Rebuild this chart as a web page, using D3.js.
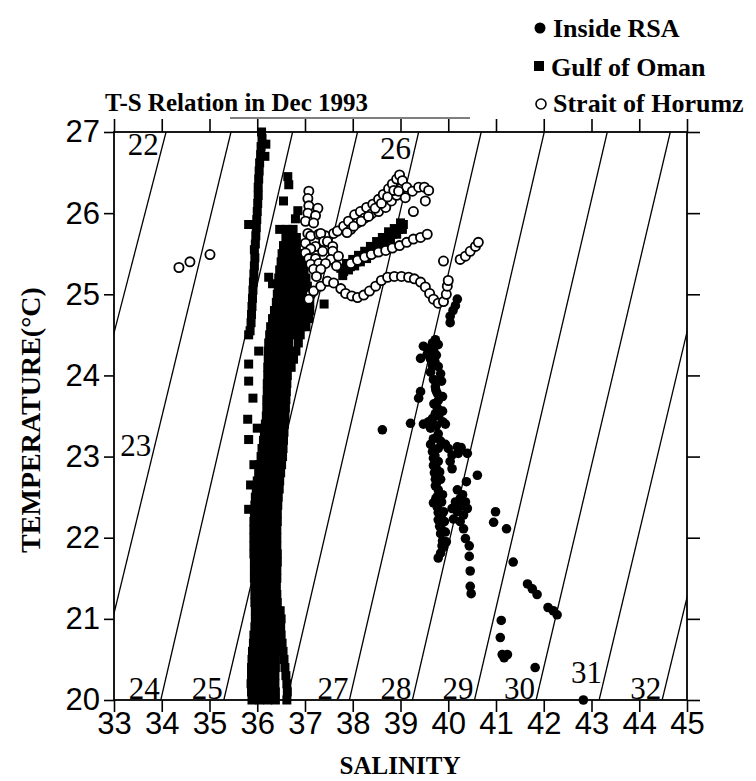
<!DOCTYPE html>
<meta charset="utf-8">

<head>
    <style>
        body { margin: 0; background: #fff; }
        svg { display: block; }
        .serif { font-family: "Liberation Serif", "Times New Roman", serif; }
        .sans { font-family: "Liberation Sans", Arial, sans-serif; }
    </style>
</head>

<body>

    <script src="https://d3js.org/d3.v7.min.js"></script>

    <svg width="756" height="781"></svg>

    <script>

        // ---------- data ----------
        var salinityTicks = [33, 34, 35, 36, 37, 38, 39, 40, 41, 42, 43, 44, 45];
        var temperatureTicks = [20, 21, 22, 23, 24, 25, 26, 27];

        // sigma-t isopycnals: salinity where each line crosses T=20 and T=27
        var sigmaLabels = [22, 23, 24, 25, 26, 27, 28, 29, 30, 31, 32];
        var sigmaSalAt20 = [31.01, 32.56, 33.98, 35.30, 36.62, 37.93, 39.25, 40.55, 41.84, 43.16, 44.48];
        var sigmaSalAt27 = [34.09, 35.45, 36.74, 38.10, 39.38, 40.69, 42.01, 43.33, 44.65, 46.00, 47.36];

        // Gulf of Oman [salinity, temperature]
        var omanSurface = [
            [36.09, 27.0], [36.10, 26.92], [36.18, 26.85], [36.08, 26.82], [36.07, 26.72], [36.16, 26.7],
            [36.05, 26.62], [36.04, 26.52], [36.03, 26.42], [36.02, 26.32], [36.02, 26.22], [36.01, 26.12],
            [36.00, 26.02], [35.99, 25.92], [35.82, 25.86], [35.98, 25.82], [35.97, 25.72], [35.96, 25.62],
            [35.94, 25.55], [35.95, 25.45], [35.94, 25.35], [35.93, 25.25], [35.92, 25.15], [35.91, 25.05],
            [35.90, 24.95], [35.89, 24.85], [35.88, 24.75], [35.87, 24.65], [35.85, 24.55],
            [36.64, 26.45], [36.66, 26.35], [36.55, 26.15], [36.85, 26.03], [36.80, 25.93], [36.47, 25.8],
            [36.24, 25.21], [36.32, 25.13], [37.40, 24.88]
        ];
        var omanMixed = [
            [36.62, 25.8], [36.75, 25.8],
            [36.60, 25.7], [36.72, 25.7], [36.82, 25.7],
            [36.55, 25.6], [36.68, 25.6], [36.82, 25.6],
            [36.52, 25.5], [36.65, 25.5], [36.78, 25.5], [36.90, 25.5],
            [36.50, 25.4], [36.62, 25.4], [36.75, 25.4], [36.88, 25.4], [36.94, 25.4],
            [36.47, 25.3], [36.60, 25.3], [36.73, 25.3], [36.86, 25.3], [36.98, 25.3],
            [36.45, 25.2], [36.58, 25.2], [36.71, 25.2], [36.84, 25.2], [36.97, 25.2], [37.02, 25.2],
            [36.44, 25.1], [36.57, 25.1], [36.70, 25.1], [36.83, 25.1], [36.96, 25.1], [37.05, 25.1],
            [36.42, 25.0], [36.55, 25.0], [36.68, 25.0], [36.81, 25.0], [36.94, 25.0], [37.07, 25.0],
            [36.40, 24.9], [36.53, 24.9], [36.66, 24.9], [36.79, 24.9], [36.92, 24.9], [37.05, 24.9], [37.10, 24.9],
            [36.36, 24.8], [36.49, 24.8], [36.62, 24.8], [36.75, 24.8], [36.88, 24.8], [37.01, 24.8], [37.10, 24.8],
            [36.32, 24.7], [36.45, 24.7], [36.58, 24.7], [36.71, 24.7], [36.84, 24.7], [36.97, 24.7], [37.08, 24.7],
            [36.28, 24.6], [36.41, 24.6], [36.54, 24.6], [36.67, 24.6], [36.80, 24.6], [36.93, 24.6], [37.02, 24.6],
            [36.26, 24.5], [36.39, 24.5], [36.52, 24.5], [36.65, 24.5], [36.78, 24.5], [36.90, 24.5],
            [36.86, 24.4], [36.81, 24.3], [36.76, 24.2], [36.71, 24.1],
            [35.82, 24.5], [36.03, 24.3], [35.82, 24.14], [35.82, 23.93], [35.91, 23.72], [35.80, 23.46],
            [36.00, 23.35], [35.82, 23.21], [35.93, 22.90], [35.86, 22.65], [35.82, 22.35]
        ];
        var omanDeep = [
            [36.24, 24.4], [36.23, 24.3], [36.23, 24.2], [36.22, 24.1], [36.22, 24.0], [36.21, 23.9], [36.21, 23.8],
            [36.20, 23.7], [36.20, 23.6], [36.19, 23.5], [36.17, 23.4], [36.15, 23.3], [36.13, 23.2], [36.10, 23.1],
            [36.08, 23.0], [36.05, 22.9], [36.03, 22.8], [36.00, 22.7], [35.98, 22.6], [35.96, 22.5], [35.95, 22.4],
            [35.94, 22.3], [35.93, 22.2], [35.93, 22.1], [35.93, 22.0], [35.93, 21.9], [35.93, 21.8], [35.94, 21.7],
            [35.94, 21.6], [35.94, 21.5], [35.95, 21.4], [35.95, 21.3], [35.95, 21.2], [35.96, 21.1], [35.96, 21.0],
            [35.95, 20.9], [35.93, 20.8], [35.92, 20.7], [35.90, 20.6], [35.89, 20.5], [35.88, 20.4], [35.88, 20.3],
            [35.87, 20.2], [35.88, 20.1], [35.89, 20.0],
            [36.38, 24.4], [36.37, 24.3], [36.37, 24.2], [36.36, 24.1], [36.36, 24.0], [36.35, 23.9], [36.34, 23.8],
            [36.34, 23.7], [36.33, 23.6], [36.32, 23.5], [36.31, 23.4], [36.29, 23.3], [36.27, 23.2], [36.25, 23.1],
            [36.23, 23.0], [36.21, 22.9], [36.19, 22.8], [36.17, 22.7], [36.15, 22.6], [36.12, 22.5], [36.11, 22.4],
            [36.10, 22.3], [36.09, 22.2], [36.09, 22.1], [36.09, 22.0], [36.09, 21.9], [36.09, 21.8], [36.10, 21.7],
            [36.10, 21.6], [36.10, 21.5], [36.11, 21.4], [36.11, 21.3], [36.12, 21.2], [36.12, 21.1], [36.12, 21.0],
            [36.11, 20.9], [36.10, 20.8], [36.08, 20.7], [36.06, 20.6], [36.05, 20.5], [36.04, 20.4], [36.04, 20.3],
            [36.03, 20.2], [36.04, 20.1], [36.05, 20.0],
            [36.52, 24.4], [36.51, 24.3], [36.51, 24.2], [36.50, 24.1], [36.50, 24.0], [36.49, 23.9], [36.48, 23.8],
            [36.47, 23.7], [36.46, 23.6], [36.45, 23.5], [36.44, 23.4], [36.42, 23.3], [36.41, 23.2], [36.39, 23.1],
            [36.38, 23.0], [36.36, 22.9], [36.34, 22.8], [36.32, 22.7], [36.30, 22.6], [36.28, 22.5], [36.27, 22.4],
            [36.26, 22.3], [36.25, 22.2], [36.25, 22.1], [36.25, 22.0], [36.25, 21.9], [36.25, 21.8], [36.25, 21.7],
            [36.25, 21.6], [36.25, 21.5], [36.26, 21.4], [36.26, 21.3], [36.27, 21.2], [36.28, 21.1], [36.29, 21.0],
            [36.27, 20.9], [36.25, 20.8], [36.24, 20.7], [36.23, 20.6], [36.22, 20.5], [36.21, 20.4], [36.21, 20.3],
            [36.20, 20.2], [36.21, 20.1], [36.22, 20.0],
            [36.66, 24.4], [36.65, 24.3], [36.64, 24.2], [36.64, 24.1], [36.63, 24.0], [36.62, 23.9], [36.61, 23.8],
            [36.60, 23.7], [36.59, 23.6], [36.58, 23.5], [36.57, 23.4], [36.56, 23.3], [36.55, 23.2], [36.54, 23.1],
            [36.53, 23.0], [36.51, 22.9], [36.49, 22.8], [36.47, 22.7], [36.46, 22.6], [36.44, 22.5], [36.43, 22.4],
            [36.42, 22.3], [36.42, 22.2], [36.41, 22.1], [36.41, 22.0], [36.41, 21.9], [36.42, 21.8], [36.42, 21.7],
            [36.41, 21.6], [36.41, 21.5], [36.40, 21.4], [36.41, 21.3], [36.42, 21.2], [36.43, 21.1], [36.44, 21.0],
            [36.41, 20.9], [36.40, 20.8], [36.40, 20.7], [36.39, 20.6], [36.38, 20.5], [36.38, 20.4], [36.37, 20.3],
            [36.37, 20.2], [36.38, 20.1], [36.38, 20.0],
            [36.48, 21.1], [36.50, 21.0], [36.49, 20.9], [36.50, 20.8], [36.52, 20.7], [36.54, 20.6], [36.56, 20.5],
            [36.58, 20.4], [36.60, 20.3], [36.62, 20.2], [36.63, 20.1], [36.62, 20.0]
        ];
        var omanNearStrait = [
            [37.75, 25.32], [37.87, 25.38], [38.00, 25.43], [38.12, 25.48], [38.25, 25.53], [38.37, 25.59],
            [38.50, 25.65], [38.62, 25.70], [38.75, 25.77], [38.87, 25.81], [39.00, 25.88],
            [37.79, 25.23], [37.91, 25.30], [38.04, 25.35], [38.16, 25.40], [38.29, 25.44], [38.42, 25.51],
            [38.54, 25.57], [38.67, 25.62], [38.79, 25.68], [38.92, 25.74], [39.04, 25.80],
            [37.81, 25.28], [37.95, 25.34], [38.08, 25.40], [38.21, 25.46], [38.33, 25.51], [38.46, 25.57],
            [38.58, 25.62], [38.71, 25.68], [38.83, 25.74], [38.96, 25.80], [39.06, 25.86]
        ];

        // Inside RSA [salinity, temperature]
        var insideRSA = [
            [40.19, 24.94], [40.15, 24.86], [40.10, 24.80], [40.04, 24.73], [40.04, 24.65],
            [39.73, 24.44], [39.67, 24.40], [39.79, 24.38], [39.56, 24.33], [39.69, 24.31], [39.48, 24.36],
            [39.42, 24.21], [39.56, 24.26], [39.63, 24.20], [39.67, 24.12], [39.63, 24.04], [39.69, 23.95],
            [39.73, 23.86], [39.77, 23.78], [39.79, 23.69], [39.77, 23.60], [39.73, 23.53], [39.67, 23.47],
            [39.59, 23.43], [39.48, 23.40], [39.63, 23.35], [39.75, 23.38], [39.88, 23.43], [39.94, 23.40],
            [39.79, 23.28], [39.69, 23.22], [39.63, 23.15], [39.67, 23.06], [39.69, 22.98], [39.69, 22.89],
            [39.71, 22.80], [39.73, 22.72], [39.73, 22.64], [39.79, 22.59], [39.77, 22.51], [39.88, 22.53],
            [39.69, 22.43], [39.77, 22.38], [39.79, 22.31], [39.79, 22.22], [39.82, 22.14], [39.84, 22.05],
            [39.88, 21.96], [39.90, 21.88], [39.84, 21.81], [39.79, 21.75],
            [39.79, 24.11], [39.84, 24.02], [39.86, 23.93], [39.88, 23.74], [39.88, 23.56], [39.84, 23.19],
            [39.79, 23.10], [39.79, 22.94], [39.82, 22.81], [39.84, 22.72], [39.86, 22.44], [39.90, 22.32],
            [39.92, 22.20], [39.94, 22.07], [39.96, 21.95],
            [39.75, 24.25], [39.72, 24.17], [39.74, 23.82], [39.70, 23.65], [39.80, 23.50], [39.72, 23.01],
            [39.75, 22.85], [39.76, 22.68], [39.74, 22.48], [39.85, 22.26], [39.86, 22.10], [39.87, 21.90],
            [39.42, 23.80], [39.38, 23.72], [39.21, 23.41], [38.62, 23.33],
            [39.94, 23.15], [40.00, 23.10], [40.08, 23.02], [40.19, 23.12], [40.27, 23.11], [40.21, 23.04],
            [40.04, 22.94], [40.08, 22.85], [40.40, 23.04], [40.61, 22.77], [40.38, 22.69],
            [40.19, 22.59], [40.30, 22.53], [40.36, 22.44], [40.40, 22.36], [40.32, 22.28], [40.19, 22.32],
            [40.11, 22.23], [40.25, 22.20], [40.32, 22.11], [40.15, 22.44], [40.08, 22.36], [40.25, 22.48],
            [40.23, 22.38],
            [40.36, 21.99], [40.44, 21.90], [40.44, 21.77], [40.46, 21.59], [40.46, 21.40], [40.48, 21.31],
            [40.99, 22.32], [40.95, 22.19], [41.22, 22.11], [41.36, 21.70], [41.66, 21.43], [41.76, 21.37],
            [41.86, 21.30], [42.09, 21.14], [42.20, 21.10], [42.28, 21.05],
            [41.11, 20.98], [41.09, 20.77], [41.13, 20.56], [41.24, 20.56], [41.17, 20.52], [41.82, 20.40],
            [42.83, 20.0]
        ];

        // Strait of Horumz [salinity, temperature]
        var straitOfHorumz = [
            [34.36, 25.33], [34.59, 25.40], [35.01, 25.49],
            [37.08, 26.27], [37.06, 26.18], [37.08, 26.09], [37.27, 26.06], [37.06, 26.0], [37.22, 25.97],
            [37.01, 25.90], [37.18, 25.88],
            [37.06, 25.75], [37.12, 25.72], [37.29, 25.74], [37.43, 25.72], [37.33, 25.75], [37.60, 25.75],
            [37.01, 25.63], [37.39, 25.65], [37.47, 25.65], [37.22, 25.59], [37.58, 25.59], [37.12, 25.56],
            [37.37, 25.53], [37.58, 25.53], [37.01, 25.51], [37.08, 25.44], [37.22, 25.44], [37.54, 25.43],
            [37.12, 25.37], [37.29, 25.38], [37.43, 25.38], [37.18, 25.31], [37.33, 25.31], [37.70, 25.47],
            [37.66, 25.35],
            [37.68, 25.78], [37.81, 25.84], [37.91, 25.90], [38.04, 25.98], [38.16, 26.02], [38.29, 26.07],
            [38.42, 26.11], [38.54, 26.17], [38.64, 26.23], [38.75, 26.30], [38.83, 26.36], [38.92, 26.42],
            [38.98, 26.47],
            [37.96, 25.80], [38.10, 25.88], [38.25, 25.94], [38.39, 25.99], [38.54, 26.02], [38.69, 26.07],
            [38.81, 26.15], [38.92, 26.22], [39.00, 26.30],
            [37.88, 25.76], [38.02, 25.84], [38.18, 25.90], [38.33, 25.96], [38.47, 26.06], [38.60, 26.12],
            [38.73, 26.20], [38.86, 26.28],
            [39.04, 26.40], [39.13, 26.32], [39.25, 26.27], [39.38, 26.32], [39.50, 26.32], [39.59, 26.28],
            [39.52, 26.15], [39.27, 26.02], [39.10, 26.19], [38.96, 26.27],
            [37.96, 25.38], [38.10, 25.42], [38.25, 25.46], [38.39, 25.49], [38.54, 25.52], [38.69, 25.54],
            [38.83, 25.57], [38.98, 25.60], [39.13, 25.64], [39.27, 25.68], [39.42, 25.70], [39.56, 25.74],
            [37.12, 25.0], [37.08, 24.94], [37.18, 25.04], [37.24, 25.22], [37.33, 25.10], [37.47, 25.16],
            [37.60, 25.14], [37.75, 25.07], [37.85, 25.01], [37.98, 24.98], [38.10, 24.96], [38.23, 24.99],
            [38.35, 25.04], [38.48, 25.10], [38.60, 25.17], [38.73, 25.21], [38.87, 25.22], [39.02, 25.22],
            [39.17, 25.21], [39.29, 25.19], [39.42, 25.15], [39.52, 25.09], [39.61, 25.01], [39.69, 24.94],
            [39.79, 24.89], [39.90, 24.91], [39.96, 25.00], [39.98, 25.10], [40.00, 25.17],
            [39.90, 25.41],
            [40.25, 25.43], [40.36, 25.47], [40.46, 25.53], [40.57, 25.59], [40.63, 25.64]
        ];

        // ---------- layout ----------
        var svg = d3.select("svg");
        svg.append("rect").attr("width", 756).attr("height", 781).attr("fill", "#fff");

        var x = d3.scaleLinear().domain([33, 45]).range([114, 687]);
        var y = d3.scaleLinear().domain([20, 27]).range([700, 132]);

        svg.append("clipPath").attr("id", "plot-clip")
            .append("rect")
            .attr("x", x(33)).attr("y", y(27))
            .attr("width", x(45) - x(33)).attr("height", y(20) - y(27));

        // isopycnal lines
        var sigmaLines = sigmaLabels.map(function (s, i) {
            return { label: s, s20: sigmaSalAt20[i], s27: sigmaSalAt27[i] };
        });

        svg.append("g")
            .attr("clip-path", "url(#plot-clip)")
            .selectAll("line")
            .data(sigmaLines)
            .enter().append("line")
            .attr("x1", function (d) { return x(d.s20); })
            .attr("y1", y(20))
            .attr("x2", function (d) { return x(d.s27); })
            .attr("y2", y(27))
            .attr("stroke", "#000")
            .attr("stroke-width", 1.3);

        // labels sit just left of their line; most on the bottom axis
        var labelTemp = { 22: 26.7, 23: 23.0, 26: 26.65, 31: 20.2 };
        function lineSal(d, t) { return d.s20 + (d.s27 - d.s20) * (t - 20) / 7; }

        svg.append("g")
            .selectAll("text")
            .data(sigmaLines)
            .enter().append("text")
            .attr("class", "serif")
            .attr("font-size", "31px")
            .attr("text-anchor", "end")
            .attr("x", function (d) {
                var t = labelTemp[d.label] || 20;
                return x(lineSal(d, t)) - 1;
            })
            .attr("y", function (d) { return y(labelTemp[d.label] || 20) - 1; })
            .text(function (d) { return d.label; });

        // Gulf of Oman squares
        var sq = 9;
        var gulfOfOman = omanSurface.concat(omanMixed, omanDeep, omanNearStrait);
        svg.append("g")
            .selectAll("rect")
            .data(gulfOfOman)
            .enter().append("rect")
            .attr("x", function (d) { return x(d[0]) - sq / 2; })
            .attr("y", function (d) { return y(d[1]) - sq / 2; })
            .attr("width", sq)
            .attr("height", sq)
            .attr("fill", "#000");

        // Inside RSA filled dots
        svg.append("g")
            .selectAll("circle")
            .data(insideRSA)
            .enter().append("circle")
            .attr("cx", function (d) { return x(d[0]); })
            .attr("cy", function (d) { return y(d[1]); })
            .attr("r", 4.8)
            .attr("fill", "#000");

        // Strait of Horumz open circles
        svg.append("g")
            .selectAll("circle")
            .data(straitOfHorumz)
            .enter().append("circle")
            .attr("cx", function (d) { return x(d[0]); })
            .attr("cy", function (d) { return y(d[1]); })
            .attr("r", 4.6)
            .attr("fill", "#fff")
            .attr("stroke", "#000")
            .attr("stroke-width", 1.8);

        // frame and axes
        svg.append("rect")
            .attr("x", x(33)).attr("y", y(27))
            .attr("width", x(45) - x(33)).attr("height", y(20) - y(27))
            .attr("fill", "none")
            .attr("stroke", "#000")
            .attr("stroke-width", 1.8);

        var xAxis = svg.append("g")
            .attr("transform", "translate(0," + y(20) + ")")
            .call(d3.axisBottom(x).tickValues(salinityTicks).tickSize(12).tickSizeOuter(0).tickFormat(d3.format("d")));
        xAxis.selectAll("text")
            .attr("class", "sans")
            .attr("font-size", "31px")
            .attr("fill", "#000")
            .attr("dy", null)
            .attr("y", 34);

        var yAxis = svg.append("g")
            .attr("transform", "translate(" + x(33) + ",0)")
            .call(d3.axisLeft(y).tickValues(temperatureTicks).tickSize(10).tickPadding(4).tickSizeOuter(0).tickFormat(d3.format("d")));
        yAxis.selectAll("text")
            .attr("class", "sans")
            .attr("font-size", "31px")
            .attr("fill", "#000");

        svg.append("g")
            .attr("transform", "translate(0," + y(27) + ")")
            .call(d3.axisTop(x).tickValues(salinityTicks).tickSize(13).tickSizeOuter(0).tickFormat(""));

        svg.append("g")
            .attr("transform", "translate(" + x(45) + ",0)")
            .call(d3.axisRight(y).tickValues(temperatureTicks).tickSize(13).tickSizeOuter(0).tickFormat(""));

        svg.selectAll(".domain").remove();
        svg.selectAll(".tick line").attr("stroke", "#000").attr("stroke-width", 1.6);

        // titles
        svg.append("text")
            .attr("class", "serif")
            .attr("font-weight", "bold")
            .attr("font-size", "25px")
            .attr("text-anchor", "middle")
            .attr("x", 400)
            .attr("y", 774)
            .text("SALINITY");

        svg.append("text")
            .attr("class", "serif")
            .attr("font-weight", "bold")
            .attr("font-size", "28px")
            .attr("text-anchor", "middle")
            .attr("transform", "translate(40,420) rotate(-90)")
            .text("TEMPERATURE(°C)");

        svg.append("text")
            .attr("class", "serif")
            .attr("font-weight", "bold")
            .attr("font-size", "25px")
            .attr("x", 105)
            .attr("y", 111)
            .text("T-S Relation in Dec 1993");

        svg.append("line")
            .attr("x1", 230).attr("x2", 470)
            .attr("y1", 118).attr("y2", 118)
            .attr("stroke", "#000")
            .attr("stroke-width", 1.2);

        // legend
        var legend = svg.append("g").attr("class", "serif").attr("font-weight", "bold").attr("font-size", "26px");

        legend.append("circle").attr("cx", 540).attr("cy", 28).attr("r", 5.5).attr("fill", "#000");
        legend.append("text").attr("x", 553).attr("y", 37).text("Inside RSA");

        legend.append("rect").attr("x", 534).attr("y", 61).attr("width", 10).attr("height", 10).attr("fill", "#000");
        legend.append("text").attr("x", 551).attr("y", 76).text("Gulf of Oman");

        legend.append("circle").attr("cx", 541).attr("cy", 104).attr("r", 5)
            .attr("fill", "#fff").attr("stroke", "#000").attr("stroke-width", 1.6);
        legend.append("text").attr("x", 553).attr("y", 112).text("Strait of Horumz");

    </script>
</body>
